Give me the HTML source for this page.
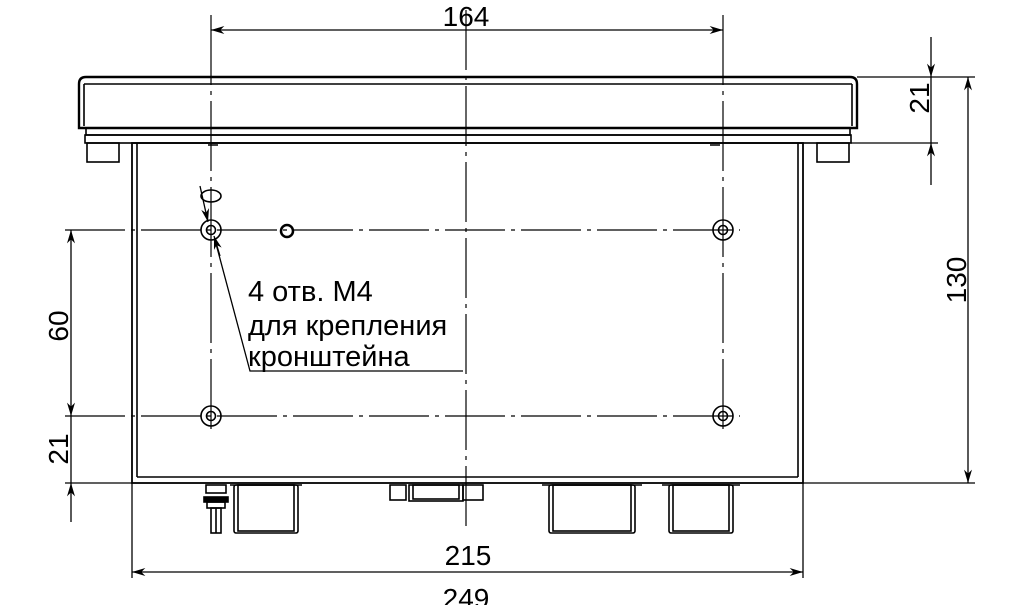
<!DOCTYPE html>
<html><head><meta charset="utf-8"><style>
html,body{margin:0;padding:0;background:#fff;}
svg{display:block;}
text{font-family:"Liberation Sans",sans-serif;fill:#000;}
</style></head><body>
<svg width="1024" height="605" viewBox="0 0 1024 605" xmlns="http://www.w3.org/2000/svg">
<defs>
<marker id="a" viewBox="0 0 10 6" refX="10" refY="3" markerWidth="20" markerHeight="8" markerUnits="userSpaceOnUse" orient="auto-start-reverse"><path d="M0,0 L10,3 L0,6 L3,3 Z" fill="#000"/></marker>
</defs>
<g stroke="#000" fill="none" stroke-width="1.6">
<path d="M79,128 L79,84 Q79,77 86,77 L850,77 Q857,77 857,84 L857,128 Z" stroke-width="2.4"/>
<line x1="84" y1="84" x2="852" y2="84"/>
<line x1="84" y1="84" x2="84" y2="126"/>
<line x1="852" y1="84" x2="852" y2="126"/>
<rect x="86" y="128" width="764" height="7"/>
<rect x="85" y="135" width="766" height="8"/>
<rect x="87" y="143" width="32" height="19"/>
<rect x="817" y="143" width="32" height="19"/>
<rect x="132" y="143" width="671" height="340" stroke-width="1.8"/>
<line x1="137" y1="143" x2="137" y2="477"/>
<line x1="798" y1="143" x2="798" y2="477"/>
<line x1="137" y1="477" x2="798" y2="477"/>
<path d="M208,145 h10 M710,145 h10"/>
<rect x="234" y="485" width="64" height="48" rx="2"/>
<rect x="238" y="485" width="56" height="46"/>
<path d="M230,485 h72"/>
<rect x="206" y="485" width="20" height="8"/>
<rect x="204" y="497" width="24" height="5" fill="#000"/>
<rect x="207" y="502" width="18" height="6"/>
<rect x="211" y="508" width="10" height="25"/>
<line x1="216" y1="508" x2="216" y2="533"/>
<rect x="390" y="485" width="16" height="15"/>
<rect x="409" y="485" width="54" height="16"/>
<rect x="413" y="485" width="46" height="14"/>
<rect x="463" y="485" width="20" height="15"/>
<rect x="549" y="485" width="86" height="48" rx="2"/>
<rect x="553" y="485" width="78" height="46"/>
<path d="M542,485 h100"/>
<rect x="669" y="485" width="64" height="48" rx="2"/>
<rect x="673" y="485" width="56" height="46"/>
<path d="M662,485 h78"/>
<g>
<circle cx="211" cy="230" r="10"/><circle cx="211" cy="230" r="4.5"/>
<circle cx="723" cy="230" r="10"/><circle cx="723" cy="230" r="4.5"/>
<circle cx="211" cy="416" r="10"/><circle cx="211" cy="416" r="4.5"/>
<circle cx="723" cy="416" r="10"/><circle cx="723" cy="416" r="4.5"/>
<circle cx="287" cy="231" r="6" stroke-width="2.5"/>
<ellipse cx="211" cy="196" rx="10" ry="6"/>
</g>
<g stroke-width="1.2">
<line x1="466" y1="10" x2="466" y2="528" stroke-dasharray="60,6,4,6"/>
<line x1="211" y1="15" x2="211" y2="430" stroke-dasharray="70,6,4,6"/>
<line x1="723" y1="15" x2="723" y2="430" stroke-dasharray="70,6,4,6"/>
<line x1="65" y1="230" x2="740" y2="230" stroke-dasharray="60,6,4,6"/>
<line x1="65" y1="416" x2="740" y2="416" stroke-dasharray="60,6,4,6"/>
</g>
<g stroke-width="1.3">
<line x1="211" y1="30" x2="723" y2="30" marker-start="url(#a)" marker-end="url(#a)"/>
<line x1="857" y1="77" x2="975" y2="77"/>
<line x1="851" y1="143" x2="938" y2="143"/>
<line x1="803" y1="483" x2="975" y2="483"/>
<line x1="931" y1="37" x2="931" y2="77" marker-end="url(#a)"/>
<line x1="931" y1="77" x2="931" y2="143"/>
<line x1="931" y1="185" x2="931" y2="143" marker-end="url(#a)"/>
<line x1="968" y1="77" x2="968" y2="483" marker-start="url(#a)" marker-end="url(#a)"/>
<line x1="65" y1="483" x2="132" y2="483"/>
<line x1="71" y1="230" x2="71" y2="416" marker-start="url(#a)" marker-end="url(#a)"/>
<line x1="71" y1="416" x2="71" y2="483"/>
<line x1="71" y1="522" x2="71" y2="483" marker-end="url(#a)"/>
<line x1="132" y1="483" x2="132" y2="578"/>
<line x1="803" y1="483" x2="803" y2="578"/>
<line x1="132" y1="572" x2="803" y2="572" marker-start="url(#a)" marker-end="url(#a)"/>
<polyline points="463,371 250,371 215,240"/>
<line x1="220" y1="256" x2="214" y2="236" marker-end="url(#a)"/>
<line x1="200" y1="186" x2="208" y2="222" marker-end="url(#a)"/>
</g>
</g>
<g font-size="28">
<text x="466" y="26" text-anchor="middle">164</text>
<text x="468" y="565" text-anchor="middle">215</text>
<text x="466" y="608" text-anchor="middle">249</text>
<text x="248" y="301" font-size="29">4 отв. М4</text>
<text x="248" y="335" font-size="29">для крепления</text>
<text x="248" y="366" font-size="29">кронштейна</text>
<text transform="translate(929,98) rotate(-90)" text-anchor="middle">21</text>
<text transform="translate(966,280) rotate(-90)" text-anchor="middle">130</text>
<text transform="translate(68,326) rotate(-90)" text-anchor="middle">60</text>
<text transform="translate(68,449) rotate(-90)" text-anchor="middle">21</text>
</g>
</svg>
</body></html>
